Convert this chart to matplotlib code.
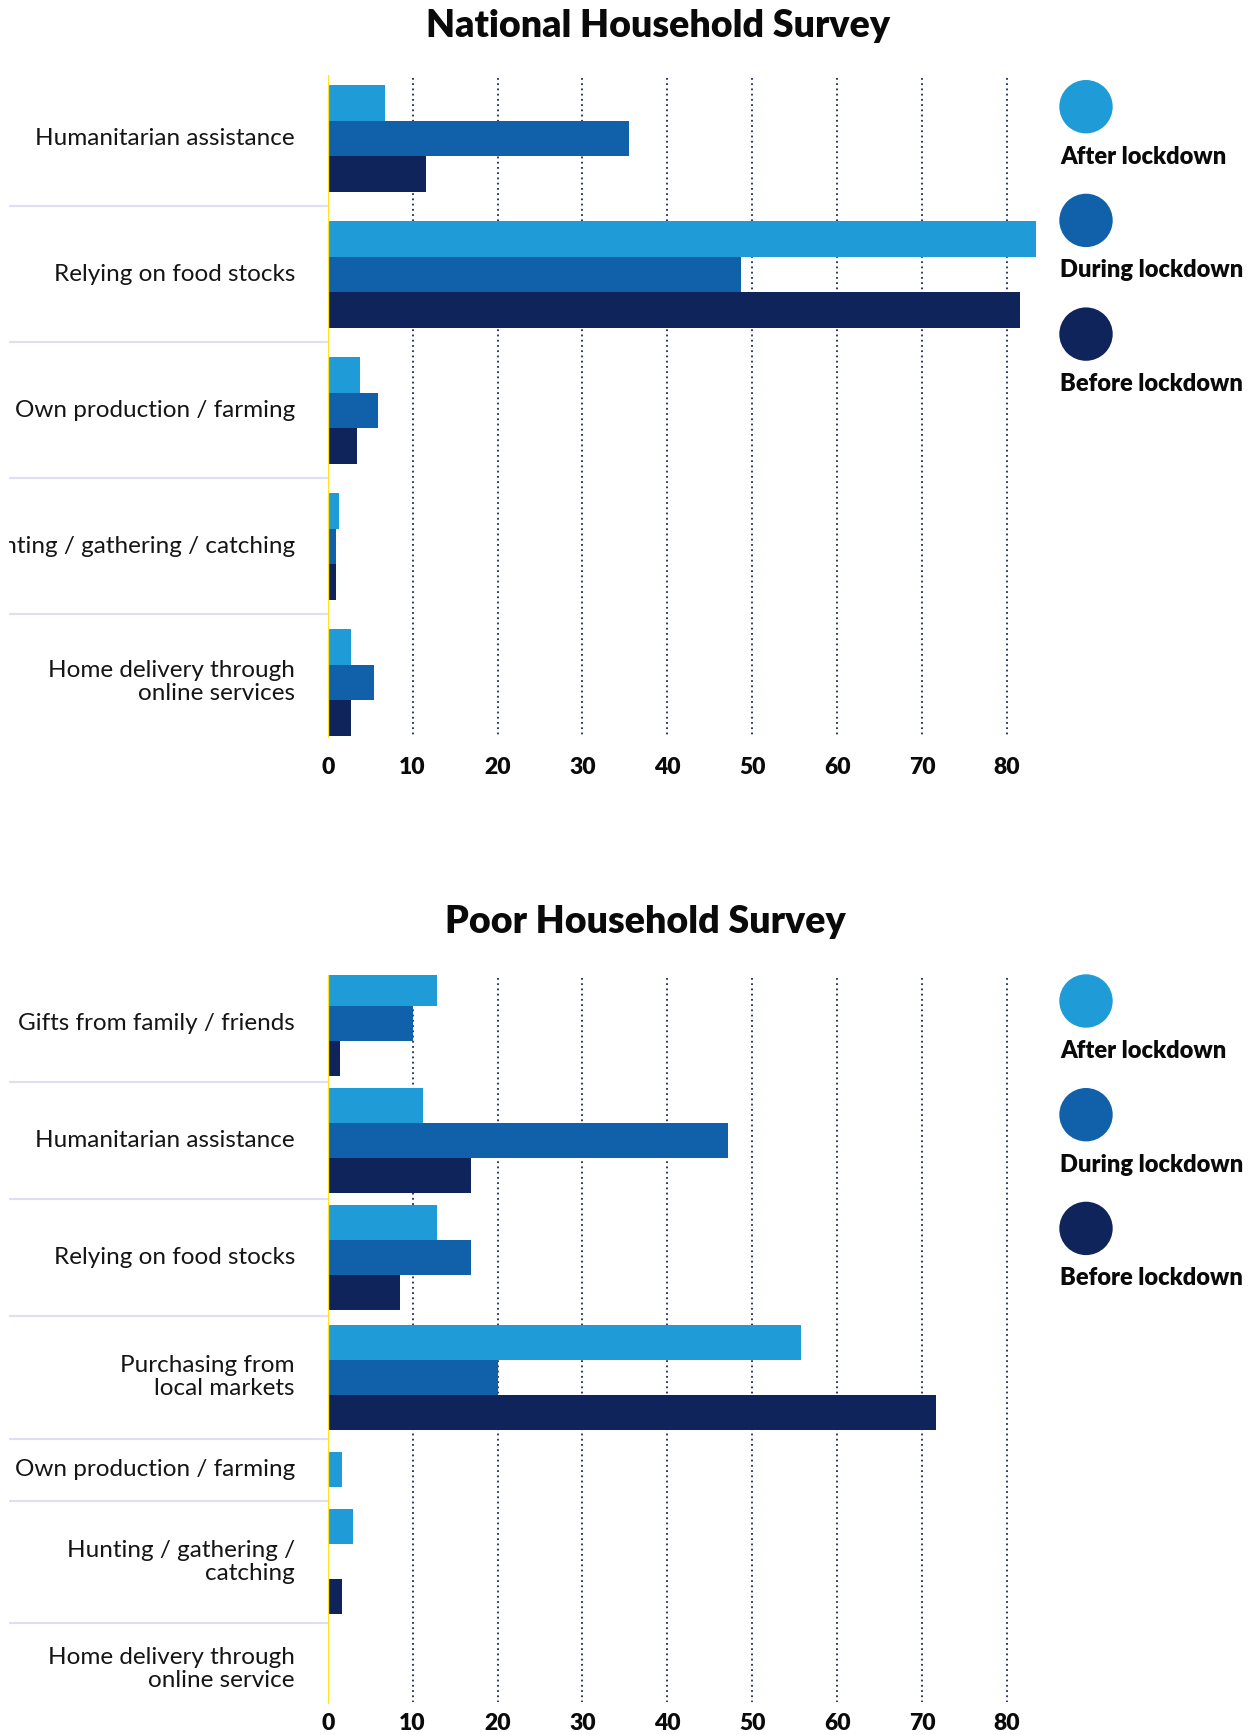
import matplotlib
matplotlib.use("Agg")
import matplotlib.pyplot as plt
from matplotlib.patches import Circle
from matplotlib.transforms import blended_transform_factory, Bbox, TransformedBbox

plt.rcParams['font.family'] = ['Lato', 'DejaVu Sans']

# ---------------- data ----------------
series = ["After lockdown", "During lockdown", "Before lockdown"]
colors = ["#1F9BD7", "#1060AA", "#0F245B"]
xticks = [0, 10, 20, 30, 40, 50, 60, 70, 80]

nat_title = "National Household Survey"
nat_categories = ["Humanitarian assistance", "Relying on food stocks",
                  "Own production / farming", "Hunting / gathering / catching",
                  "Home delivery through\nonline services"]
nat_after = [6.8, 83.4, 3.8, 1.3, 2.8]
nat_during = [35.5, 48.7, 5.9, 1.0, 5.4]
nat_before = [11.6, 81.5, 3.5, 1.0, 2.8]

poor_title = "Poor Household Survey"
poor_categories = ["Gifts from family / friends", "Humanitarian assistance",
                   "Relying on food stocks", "Purchasing from\nlocal markets",
                   "Own production / farming", "Hunting / gathering /\ncatching",
                   "Home delivery through\nonline service"]
poor_after = [12.9, 11.2, 12.9, 55.8, 1.7, 3.0, None]
poor_during = [10.0, 47.1, 16.9, 20.0, None, 0.0, None]
poor_before = [1.5, 16.9, 8.5, 71.7, None, 1.7, None]

# ---------------- layout ----------------
W, H = 1260, 1735
fig = plt.figure(figsize=(W / 100, H / 100), dpi=100)
fig.patch.set_facecolor("white")

X0 = 327.7          # pixel position of value 0
PX_PER_UNIT = 8.49  # pixels per value unit
XMAX = 86
AX_W = XMAX * PX_PER_UNIT
YELLOW = "#FFE221"
GRID_C = "#1B2A5E"
SEP_C = "#DEE0F2"
# the reference crops the label column at its left edge
label_clip = TransformedBbox(Bbox.from_extents(9 / W, 0, 335 / W, 1), fig.transFigure)


def draw_panel(cats, vals, title, title_xy, axes_top, axes_bottom, rows_offset,
               bar_h, row_pad, line_h, line_extra, legend_top, tick_pad):
    ax_h = axes_bottom - axes_top
    ax = fig.add_axes([X0 / W, 1 - axes_bottom / H, AX_W / W, ax_h / H])
    ax.set_xlim(0, XMAX)
    ax.set_ylim(ax_h, 0)
    ax.patch.set_alpha(0)
    for s in ax.spines.values():
        s.set_visible(False)
    ax.set_yticks([])
    ax.set_xticks(xticks)
    ax.set_xticklabels([str(t) for t in xticks], fontweight="heavy", fontsize=16.5, color="#0A0A0A")
    ax.tick_params(axis="x", length=0, pad=tick_pad)

    # dotted gridlines
    for t in xticks[1:]:
        ax.vlines(t, 3, ax_h - 2.5, colors=GRID_C, linewidth=1.3,
                  linestyles=(0, (1, 1.9)), zorder=1)

    trans = blended_transform_factory(ax.transAxes, ax.transData)
    y = rows_offset
    n = len(cats)
    for i, cat in enumerate(cats):
        present = [s for s in range(3) if vals[s][i] is not None]
        nlines = cat.count("\n") + 1
        row_h = (max(len(present) * bar_h, (nlines + 1) * line_h) + row_pad
                 + (nlines - 1) * line_extra)
        start = y + (row_h - len(present) * bar_h) / 2
        for k, s in enumerate(present):
            ax.barh(start + k * bar_h + bar_h / 2, vals[s][i], height=bar_h,
                    color=colors[s], linewidth=0, zorder=2)
        t = ax.text((295 - X0) / AX_W, y + row_h / 2, cat, transform=trans,
                    ha="right", va="center", multialignment="right",
                    fontsize=17.5, color="#151515", linespacing=1.12)
        t.set_clip_box(label_clip)
        t.set_clip_on(True)
        y += row_h
        if i < n - 1:
            ax.plot([(9 - X0) / AX_W, 0], [y, y], transform=trans, color=SEP_C,
                    linewidth=1.5, clip_on=False, zorder=1, solid_capstyle="butt")

    ax.axvline(0, color=YELLOW, linewidth=1.7, zorder=3)

    fig.text(title_xy[0] / W, 1 - title_xy[1] / H, title, ha="center", va="center",
             fontsize=27, fontweight="heavy", color="#0A0A0A")

    # legend
    for k, name in enumerate(series):
        cy = legend_top + k * 113.7
        fig.add_artist(Circle((1086 / 100, (H - cy) / 100), 0.267,
                              transform=fig.dpi_scale_trans, color=colors[k], linewidth=0))
        fig.text(1060 / W, 1 - (cy + 50) / H, name, ha="left", va="center",
                 fontsize=17, fontweight="heavy", color="#0A0A0A")
    return ax


draw_panel(nat_categories, [nat_after, nat_during, nat_before], nat_title, (658, 26),
           axes_top=75, axes_bottom=738, rows_offset=-4.75, bar_h=35.5, row_pad=29.5,
           line_h=24, line_extra=0, legend_top=106.7, tick_pad=13.5)

draw_panel(poor_categories, [poor_after, poor_during, poor_before], poor_title, (645, 922),
           axes_top=975, axes_bottom=1704, rows_offset=-10, bar_h=35, row_pad=12,
           line_h=25, line_extra=5.5, legend_top=1001, tick_pad=6.5)

fig.savefig("out.png", dpi=100, facecolor="white")
